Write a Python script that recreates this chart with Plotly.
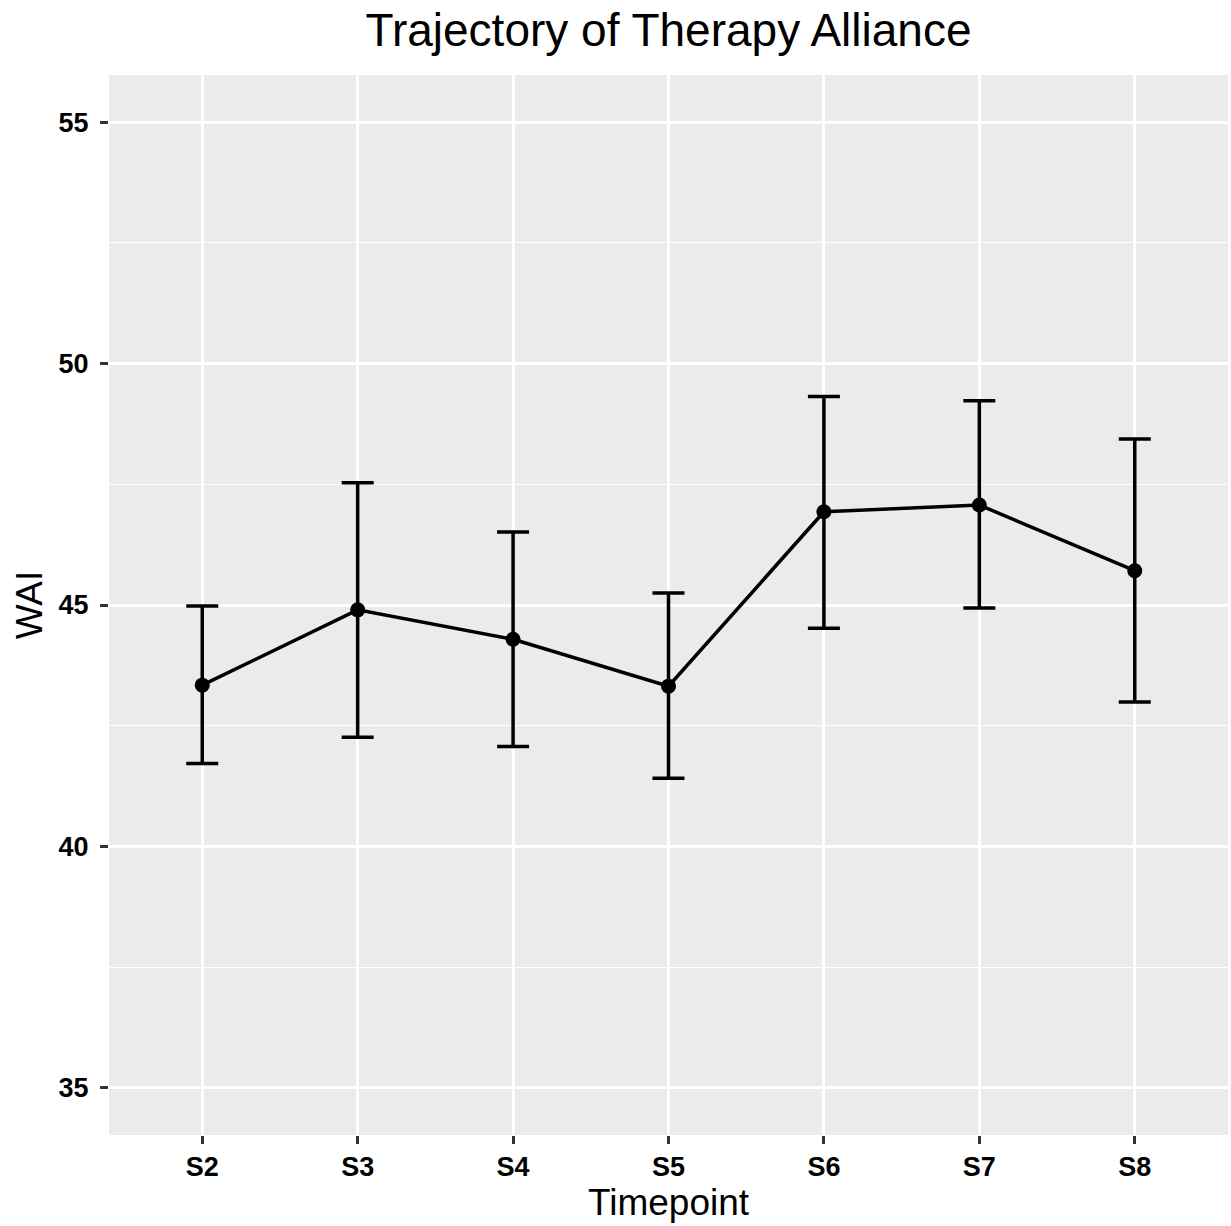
import plotly.graph_objects as go

timepoints = ["S2", "S3", "S4", "S5", "S6", "S7", "S8"]
wai_mean = [43.34, 44.90, 44.29, 43.32, 46.93, 47.07, 45.71]
wai_upper = [44.98, 47.53, 46.51, 45.25, 49.32, 49.23, 48.44]
wai_lower = [41.72, 42.26, 42.07, 41.41, 44.52, 44.94, 42.99]

err_plus = [u - m for u, m in zip(wai_upper, wai_mean)]
err_minus = [m - l for m, l in zip(wai_mean, wai_lower)]

FONT = "Liberation Sans, Arial, sans-serif"

fig = go.Figure()
fig.add_trace(go.Scatter(
    x=timepoints, y=wai_mean, mode="lines+markers",
    line=dict(color="black", width=3.5),
    marker=dict(color="black", size=15),
    error_y=dict(type="data", symmetric=False, array=err_plus, arrayminus=err_minus,
                 color="black", thickness=3.5, width=16),
    showlegend=False,
))

fig.update_layout(
    width=1231, height=1226,
    margin=dict(l=109, r=3, t=75, b=91),
    paper_bgcolor="white", plot_bgcolor="#EBEBEB",
    title=dict(text="Trajectory of Therapy Alliance", x=(109 + 1228) / 2 / 1231, xanchor="center",
               y=1 - 30 / 1226, yanchor="middle", font=dict(family=FONT, size=46, color="black")),
    xaxis=dict(
        range=[-0.6, 6.6], showgrid=True, gridcolor="white", gridwidth=2.5,
        ticks="outside", ticklen=8, tickwidth=2.5, tickcolor="#333333",
        tickfont=dict(family=FONT, size=27, color="black", weight="bold"),
        title=dict(text="Timepoint", font=dict(family=FONT, size=37, color="black"), standoff=4),
        zeroline=False, showline=False, automargin=False,
    ),
    yaxis=dict(
        range=[34.025, 55.975], dtick=5, tick0=35, showgrid=True, gridcolor="white", gridwidth=2.5,
        minor=dict(dtick=2.5, tick0=35, showgrid=True, gridcolor="white", gridwidth=1.2),
        ticks="outside", ticklen=8, tickwidth=2.5, tickcolor="#333333", ticklabelstandoff=6,
        tickfont=dict(family=FONT, size=27, color="black", weight="bold"),
        title=dict(text="WAI", font=dict(family=FONT, size=37, color="black"), standoff=4),
        zeroline=False, showline=False, automargin=False,
    ),
)

fig.write_html("out.html", config={"displayModeBar": False},
               post_script="document.body.style.margin='0';")
